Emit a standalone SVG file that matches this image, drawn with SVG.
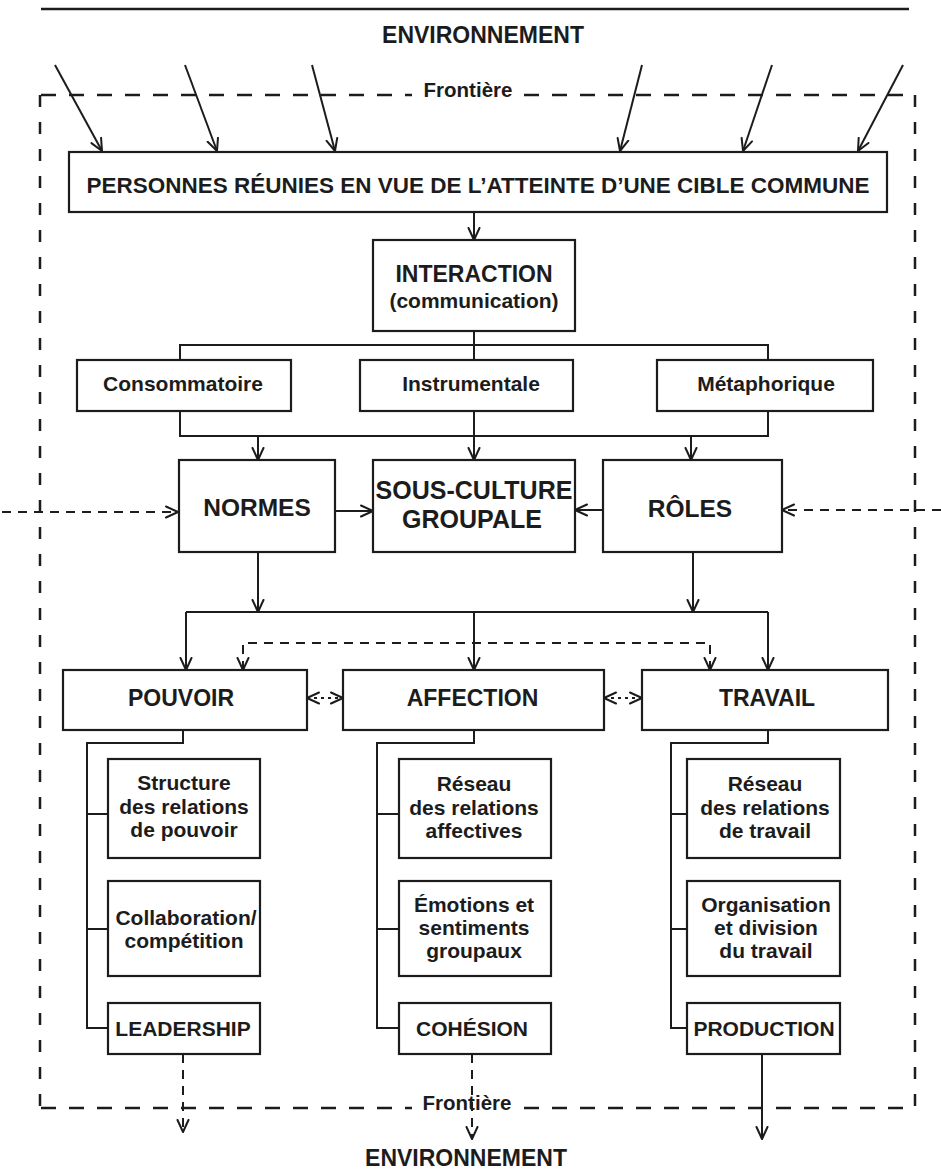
<svg xmlns="http://www.w3.org/2000/svg" width="941" height="1171" viewBox="0 0 941 1171">
<style>
.box{fill:#fff;stroke:#1c1c1c;stroke-width:2.2}
.t{font-family:"Liberation Sans",Arial,Helvetica,sans-serif;font-weight:bold;fill:#1c1c1c;text-anchor:middle}
.s20{font-size:20.5px}
.s21{font-size:21px}
.s23{font-size:23px}
.s24{font-size:24.5px}
.s25{font-size:25px}
.ln{fill:none;stroke:#1c1c1c;stroke-width:2}
.arr{marker-end:url(#ah)}
.dbl{marker-start:url(#ah);marker-end:url(#ah)}
.dsh{stroke-dasharray:9 7}
.dot{stroke-dasharray:3 4}
.bh{fill:none;stroke:#1c1c1c;stroke-width:2.5;stroke-dasharray:15 13}
.bv{fill:none;stroke:#1c1c1c;stroke-width:2.5;stroke-dasharray:12 15}
</style>
<defs>
<marker id="ah" viewBox="0 0 14 14" refX="13" refY="7" markerWidth="14" markerHeight="14" markerUnits="userSpaceOnUse" orient="auto-start-reverse">
<path d="M1,1.5 L13,7 L1,12.5" fill="none" stroke="#1c1c1c" stroke-width="2" stroke-dasharray="none" stroke-linejoin="round" stroke-linecap="round"/>
</marker>
</defs>
<rect width="941" height="1171" fill="#fff"/>

<g id="environment">
<line x1="41" y1="9" x2="909" y2="9" stroke="#1c1c1c" stroke-width="2.5"/>
<text class="t s23" x="483" y="43">ENVIRONNEMENT</text>
<text class="t s23" x="466" y="1166">ENVIRONNEMENT</text>
</g>

<g id="boundary">
<path class="bh" d="M41,95 H412 M524,95 H915 M41,1108 H412 M524,1108 H915"/>
<path class="bv" d="M40,95 V1108 M915,95 V1108"/>
<text class="t s20" x="468" y="97">Frontière</text>
<text class="t s20" x="467" y="1110">Frontière</text>
</g>

<g id="connectors">
<path class="ln arr" d="M55,65 L102,151"/>
<path class="ln arr" d="M185,65 L217,151"/>
<path class="ln arr" d="M312,65 L335,151"/>
<path class="ln arr" d="M642,65 L620,151"/>
<path class="ln arr" d="M772,65 L743,151"/>
<path class="ln arr" d="M903,65 L858,151"/>
<path class="ln arr" d="M474,212 V240"/>
<path class="ln" d="M474,331 V360 M180,360 V345 H768 V360"/>
<path class="ln" d="M180,411 V436 H768 V411"/>
<path class="ln arr" d="M474,411 V460"/>
<path class="ln arr" d="M258,436 V460"/>
<path class="ln arr" d="M691,436 V460"/>
<path class="ln arr" d="M335,511 H373"/>
<path class="ln arr" d="M603,510 H575"/>
<path class="ln dsh arr" d="M2,512 H178"/>
<path class="ln dsh arr" d="M941,510 H782"/>
<path class="ln arr" d="M258,552 V612"/>
<path class="ln arr" d="M693,552 V612"/>
<path class="ln" d="M186,612 H768"/>
<path class="ln arr" d="M186,612 V670"/>
<path class="ln arr" d="M474,612 V670"/>
<path class="ln arr" d="M768,612 V670"/>
<path class="ln dsh dbl" d="M243,670 V643 H710 V670"/>
<path class="ln dot dbl" d="M307,698 H343"/>
<path class="ln dot dbl" d="M604,698 H642"/>
<path class="ln" d="M183,730 V743 H87 V1028 H108 M87,814 H108 M87,929 H108"/>
<path class="ln" d="M474,730 V743 H377 V1028 H399 M377,814 H399 M377,929 H399"/>
<path class="ln" d="M768,730 V743 H671 V1028 H687 M671,814 H687 M671,929 H687"/>
<path class="ln dsh arr" d="M183,1054 V1132"/>
<path class="ln dsh arr" d="M472,1054 V1139"/>
<path class="ln arr" d="M762,1054 V1139"/>
</g>

<g id="personnes">
<rect class="box" x="69" y="152" width="818" height="60"/>
<text class="t" x="478" y="193" style="font-size:22.4px" textLength="783" lengthAdjust="spacingAndGlyphs">PERSONNES RÉUNIES EN VUE DE L’ATTEINTE D’UNE CIBLE COMMUNE</text>
</g>

<g id="interaction">
<rect class="box" x="373" y="240" width="202" height="91"/>
<text class="t s23" x="474" y="282">INTERACTION</text>
<text class="t s21" x="474" y="308">(communication)</text>
</g>

<g id="consommatoire">
<rect class="box" x="77" y="360" width="214" height="51"/>
<text class="t s21" x="183" y="391">Consommatoire</text>
</g>
<g id="instrumentale">
<rect class="box" x="360" y="360" width="213" height="51"/>
<text class="t s21" x="471" y="391">Instrumentale</text>
</g>
<g id="metaphorique">
<rect class="box" x="657" y="360" width="216" height="51"/>
<text class="t s21" x="766" y="391">Métaphorique</text>
</g>

<g id="normes">
<rect class="box" x="179" y="460" width="156" height="92"/>
<text class="t s24" x="257" y="516">NORMES</text>
</g>
<g id="sous-culture">
<rect class="box" x="373" y="460" width="202" height="92"/>
<text class="t s25" x="474" y="499">SOUS-CULTURE</text>
<text class="t s25" x="472" y="528">GROUPALE</text>
</g>
<g id="roles">
<rect class="box" x="603" y="460" width="179" height="92"/>
<text class="t s24" x="690" y="517">RÔLES</text>
</g>

<g id="pouvoir">
<rect class="box" x="63" y="670" width="244" height="60"/>
<text class="t s23" x="181" y="706">POUVOIR</text>
</g>
<g id="affection">
<rect class="box" x="343" y="670" width="261" height="60"/>
<text class="t s23" x="472.5" y="706">AFFECTION</text>
</g>
<g id="travail">
<rect class="box" x="642" y="670" width="246" height="60"/>
<text class="t s23" x="767" y="706">TRAVAIL</text>
</g>

<g id="structure-pouvoir">
<rect class="box" x="108" y="759" width="152" height="99"/>
<text class="t s21" x="184" y="790">Structure</text>
<text class="t s21" x="184" y="814">des relations</text>
<text class="t s21" x="184" y="837">de pouvoir</text>
</g>
<g id="collaboration">
<rect class="box" x="108" y="881" width="152" height="95"/>
<text class="t s21" x="186" y="925">Collaboration/</text>
<text class="t s21" x="184" y="948">compétition</text>
</g>
<g id="leadership">
<rect class="box" x="108" y="1003" width="152" height="51"/>
<text class="t s21" x="183" y="1036">LEADERSHIP</text>
</g>

<g id="reseau-affectif">
<rect class="box" x="399" y="759" width="152" height="99"/>
<text class="t s21" x="474" y="791">Réseau</text>
<text class="t s21" x="474" y="815">des relations</text>
<text class="t s21" x="474" y="838">affectives</text>
</g>
<g id="emotions">
<rect class="box" x="399" y="881" width="152" height="95"/>
<text class="t s21" x="474" y="912">Émotions et</text>
<text class="t s21" x="474" y="935">sentiments</text>
<text class="t s21" x="474" y="958">groupaux</text>
</g>
<g id="cohesion">
<rect class="box" x="399" y="1003" width="152" height="51"/>
<text class="t s21" x="472" y="1036">COHÉSION</text>
</g>

<g id="reseau-travail">
<rect class="box" x="687" y="759" width="153" height="99"/>
<text class="t s21" x="765" y="791">Réseau</text>
<text class="t s21" x="765" y="815">des relations</text>
<text class="t s21" x="765" y="838">de travail</text>
</g>
<g id="organisation">
<rect class="box" x="687" y="881" width="153" height="95"/>
<text class="t s21" x="766" y="912">Organisation</text>
<text class="t s21" x="766" y="935">et division</text>
<text class="t s21" x="766" y="958">du travail</text>
</g>
<g id="production">
<rect class="box" x="687" y="1003" width="153" height="51"/>
<text class="t s21" x="764" y="1036">PRODUCTION</text>
</g>
</svg>
